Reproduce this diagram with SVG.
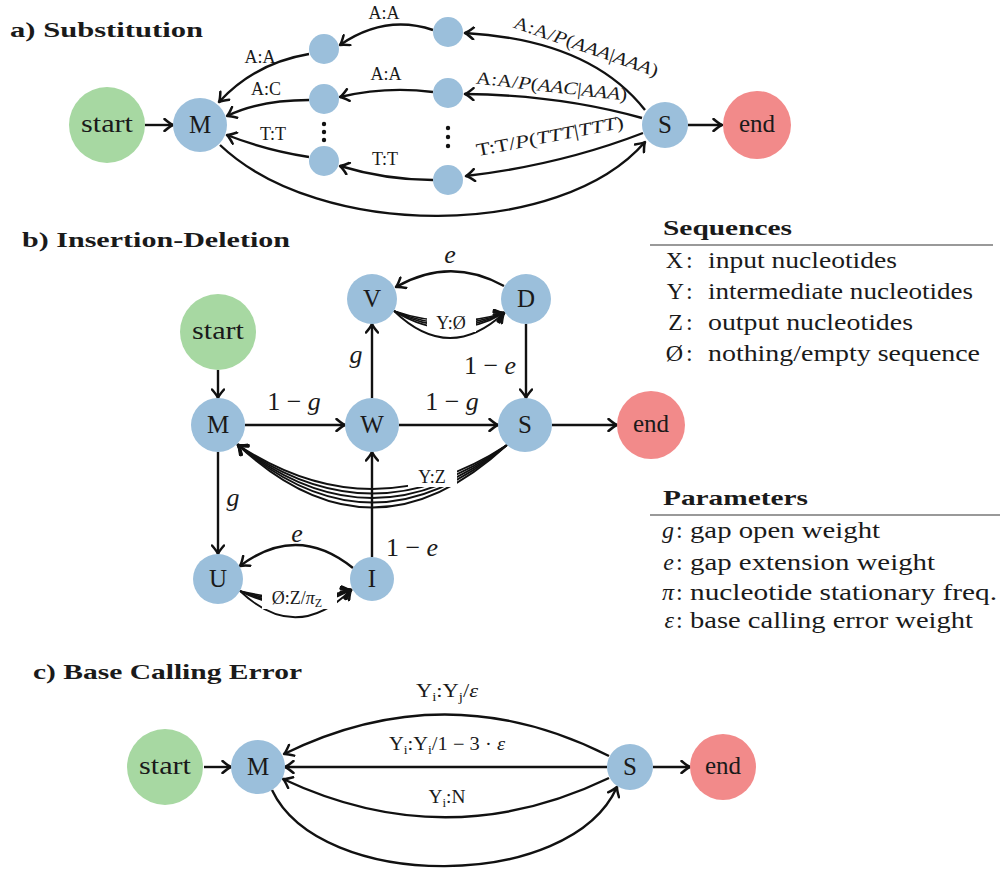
<svg xmlns="http://www.w3.org/2000/svg" width="1000" height="879" viewBox="0 0 1000 879">
  <style>
    text { font-family: 'Liberation Serif', 'Times New Roman', serif; fill: #1a1a1a; }
    .title { font-size: 22px; font-weight: bold; }
    .nl { font-size: 25px; text-anchor: middle; }
    .sl { font-size: 18px; text-anchor: middle; }
    .ml { font-size: 26px; text-anchor: middle; }
    .lg { font-size: 24px; }
    .sub { font-size: 12px; }
    .it { font-style: italic; }
    .edge { fill: none; stroke: #111; stroke-width: 2.4; marker-end: url(#tip); }
    .bundle { fill: none; stroke: #111; stroke-width: 1.8; marker-end: url(#tip); }
    .blue { fill: #9bbfdb; }
    .green { fill: #a7d8a2; }
    .red { fill: #f28a8a; }
    .rule { stroke: #777; stroke-width: 1.5; }
    .dot { fill: #111; }
    .mask { fill: #fff; }
  </style>
  <defs>
    <marker id="tip" viewBox="-11 -7 13 14" refX="0" refY="0" markerWidth="13" markerHeight="14" markerUnits="userSpaceOnUse" orient="auto">
      <path d="M-8.5,-6 Q-3,-1.2 0,0 Q-3,1.2 -8.5,6" fill="none" stroke="#111" stroke-width="2.5" stroke-linecap="round" stroke-linejoin="round"/>
    </marker>
  </defs>

  <!-- ============ a) Substitution ============ -->
  <text class="title" x="10" y="37" textLength="193" lengthAdjust="spacingAndGlyphs">a) Substitution</text>

  <g id="a-connectors">
    <path class="edge" d="M145,125 L173,125"/>
    <path class="edge" d="M688,125 L722,125"/>
    <!-- second column to first column -->
    <path class="edge" d="M433,30 Q385,14 340,45"/>
    <path class="edge" d="M433,92 Q386,86 340,97"/>
    <path class="edge" d="M433,180 Q386,180 340,166"/>
    <!-- first column into M -->
    <path class="edge" d="M309,54 Q255,63 219,102"/>
    <path class="edge" d="M309,100 Q260,100 227,116"/>
    <path class="edge" d="M309,157 Q265,150 227,135"/>
    <!-- M back to S -->
    <path class="edge" d="M220,145 C320,240 560,240 645,142"/>
    <!-- S into second column -->
    <path class="edge" d="M645,110 Q590,40 465,33"/>
    <path class="edge" d="M642,118 Q560,95 465,94"/>
    <path class="edge" d="M643,133 Q560,165 466,176"/>
  </g>

  <g id="a-labels">
    <text class="sl" x="384" y="19">A:A</text>
    <text class="sl" x="386" y="80">A:A</text>
    <text class="sl" x="385" y="165">T:T</text>
    <text class="sl" x="260" y="63">A:A</text>
    <text class="sl" x="266" y="95">A:C</text>
    <text class="sl" x="273" y="140">T:T</text>
    <text class="sl" x="584" y="52" transform="rotate(19 584 52)" textLength="152" lengthAdjust="spacingAndGlyphs">A:A/<tspan class="it">P</tspan>(<tspan class="it">AAA</tspan>|<tspan class="it">AAA</tspan>)</text>
    <text class="sl" x="551" y="92" transform="rotate(6.5 551 92)" textLength="152" lengthAdjust="spacingAndGlyphs">A:A/<tspan class="it">P</tspan>(<tspan class="it">AAC</tspan>|<tspan class="it">AAA</tspan>)</text>
    <text class="sl" x="551" y="142" transform="rotate(-11 551 142)" textLength="150" lengthAdjust="spacingAndGlyphs">T:T/<tspan class="it">P</tspan>(<tspan class="it">TTT</tspan>|<tspan class="it">TTT</tspan>)</text>
  </g>

  <g id="a-start"><circle class="green" cx="107" cy="125" r="38"/><text class="nl" x="107" y="132" textLength="52" lengthAdjust="spacingAndGlyphs">start</text></g>
  <g id="a-M"><circle class="blue" cx="200" cy="125" r="27"/><text class="nl" x="200" y="133">M</text></g>
  <g id="a-c1-top"><circle class="blue" cx="324" cy="49" r="15"/></g>
  <g id="a-c1-mid"><circle class="blue" cx="324" cy="99" r="15"/></g>
  <g id="a-c1-bot"><circle class="blue" cx="324" cy="161" r="15"/></g>
  <g id="a-c2-top"><circle class="blue" cx="448" cy="32" r="15"/></g>
  <g id="a-c2-mid"><circle class="blue" cx="448" cy="93" r="15"/></g>
  <g id="a-c2-bot"><circle class="blue" cx="448" cy="180" r="15"/></g>
  <g id="a-vdots">
    <circle class="dot" cx="324" cy="124" r="2.2"/><circle class="dot" cx="324" cy="132" r="2.2"/><circle class="dot" cx="324" cy="140" r="2.2"/>
    <circle class="dot" cx="448" cy="128" r="2.2"/><circle class="dot" cx="448" cy="137" r="2.2"/><circle class="dot" cx="448" cy="146" r="2.2"/>
  </g>
  <g id="a-S"><circle class="blue" cx="665" cy="125" r="23"/><text class="nl" x="665" y="133">S</text></g>
  <g id="a-end"><circle class="red" cx="757" cy="125" r="34"/><text class="nl" x="757" y="132">end</text></g>

  <!-- ============ b) Insertion-Deletion ============ -->
  <text class="title" x="22" y="247" textLength="268" lengthAdjust="spacingAndGlyphs">b) Insertion-Deletion</text>

  <g id="b-connectors">
    <path class="edge" d="M218,370 L218,398"/>
    <path class="edge" d="M245,425 L345,425"/>
    <path class="edge" d="M399,425 L498,425"/>
    <path class="edge" d="M552,425 L617,425"/>
    <path class="edge" d="M372,398 L372,324"/>
    <path class="edge" d="M526,324 L526,398"/>
    <path class="edge" d="M218,452 L218,554"/>
    <path class="edge" d="M372,557 L372,452"/>
    <path class="edge" d="M504,286 Q450,256 396,287"/>
    <path class="edge" d="M353,568 Q297,523 240,566"/>
    <!-- V to D bundle -->
    <path class="bundle" d="M394,311 Q449,330 504,313"/>
    <path class="bundle" d="M394,311 Q449,335 504,313"/>
    <path class="bundle" d="M394,311 Q449,340 504,313"/>
    <path class="bundle" d="M394,311 Q449,345 504,313"/>
    <path class="bundle" d="M394,311 Q449,364 504,313"/>
    <!-- S to M bundle -->
    <path class="bundle" d="M507,445 Q372,533 238,445"/>
    <path class="bundle" d="M507,445 Q372,542 238,445"/>
    <path class="bundle" d="M507,445 Q372,551 238,445"/>
    <path class="bundle" d="M507,445 Q372,560 238,445"/>
    <path class="bundle" d="M507,445 Q372,570 238,445"/>
    <!-- U to I bundle -->
    <path class="bundle" d="M240,591 Q296,605 351,590"/>
    <path class="bundle" d="M240,591 Q296,610 351,590"/>
    <path class="bundle" d="M240,591 Q296,615 351,590"/>
    <path class="bundle" d="M240,591 Q296,620 351,590"/>
    <path class="bundle" d="M240,591 Q296,644 351,590"/>
  </g>

  <g id="b-labels">
    <text class="ml" x="294" y="410">1 − <tspan class="it">g</tspan></text>
    <text class="ml" x="452" y="410">1 − <tspan class="it">g</tspan></text>
    <text class="ml it" x="356" y="363">g</text>
    <text class="ml" x="490" y="374">1 − <tspan class="it">e</tspan></text>
    <text class="ml it" x="450" y="263">e</text>
    <text class="ml it" x="233" y="506">g</text>
    <text class="ml it" x="297" y="542">e</text>
    <text class="ml" x="412" y="556">1 − <tspan class="it">e</tspan></text>
    <rect class="mask" x="427" y="313" width="49" height="19"/>
    <text class="sl" x="451" y="329">Y:Ø</text>
    <rect class="mask" x="408" y="466" width="49" height="21"/>
    <text class="sl" x="432" y="483">Y:Z</text>
    <rect class="mask" x="262" y="588" width="75" height="21"/>
    <text class="sl" x="297" y="604">Ø:Z/<tspan class="it">π</tspan><tspan class="sub" dy="3">Z</tspan></text>
  </g>

  <g id="b-start"><circle class="green" cx="218" cy="332" r="38"/><text class="nl" x="218" y="339" textLength="52" lengthAdjust="spacingAndGlyphs">start</text></g>
  <g id="b-M"><circle class="blue" cx="218" cy="425" r="27"/><text class="nl" x="218" y="433">M</text></g>
  <g id="b-W"><circle class="blue" cx="372" cy="425" r="27"/><text class="nl" x="372" y="433">W</text></g>
  <g id="b-S"><circle class="blue" cx="525" cy="425" r="27"/><text class="nl" x="525" y="433">S</text></g>
  <g id="b-end"><circle class="red" cx="651" cy="425" r="34"/><text class="nl" x="651" y="432">end</text></g>
  <g id="b-V"><circle class="blue" cx="372" cy="299" r="25"/><text class="nl" x="372" y="307">V</text></g>
  <g id="b-D"><circle class="blue" cx="526" cy="299" r="25"/><text class="nl" x="526" y="307">D</text></g>
  <g id="b-U"><circle class="blue" cx="218" cy="579" r="25"/><text class="nl" x="218" y="587">U</text></g>
  <g id="b-I"><circle class="blue" cx="372" cy="579" r="22"/><text class="nl" x="372" y="587">I</text></g>

  <!-- ============ legend ============ -->
  <g id="legend-sequences">
    <text class="title" x="663" y="235" textLength="129" lengthAdjust="spacingAndGlyphs">Sequences</text>
    <line class="rule" x1="650" y1="245" x2="993" y2="245"/>
    <text class="lg" x="683" y="268" text-anchor="end">X</text><text class="lg" x="686" y="268">:</text>
    <text class="lg" x="708" y="268" textLength="189" lengthAdjust="spacingAndGlyphs">input nucleotides</text>
    <text class="lg" x="684" y="299" text-anchor="end">Y</text><text class="lg" x="686" y="299">:</text>
    <text class="lg" x="708" y="299" textLength="265" lengthAdjust="spacingAndGlyphs">intermediate nucleotides</text>
    <text class="lg" x="683" y="330" text-anchor="end">Z</text><text class="lg" x="686" y="330">:</text>
    <text class="lg" x="708" y="330" textLength="205" lengthAdjust="spacingAndGlyphs">output nucleotides</text>
    <text class="lg" x="683" y="361" text-anchor="end">Ø</text><text class="lg" x="686" y="361">:</text>
    <text class="lg" x="708" y="361" textLength="272" lengthAdjust="spacingAndGlyphs">nothing/empty sequence</text>
  </g>
  <g id="legend-parameters">
    <text class="title" x="663" y="505" textLength="145" lengthAdjust="spacingAndGlyphs">Parameters</text>
    <line class="rule" x1="650" y1="515" x2="1000" y2="515"/>
    <text class="lg it" x="674" y="538" text-anchor="end">g</text><text class="lg" x="676" y="538">:</text>
    <text class="lg" x="690" y="538" textLength="190" lengthAdjust="spacingAndGlyphs">gap open weight</text>
    <text class="lg it" x="674" y="570" text-anchor="end">e</text><text class="lg" x="676" y="570">:</text>
    <text class="lg" x="690" y="570" textLength="245" lengthAdjust="spacingAndGlyphs">gap extension weight</text>
    <text class="lg it" x="674" y="600" text-anchor="end">π</text><text class="lg" x="676" y="600">:</text>
    <text class="lg" x="690" y="600" textLength="307" lengthAdjust="spacingAndGlyphs">nucleotide stationary freq.</text>
    <text class="lg it" x="674" y="628" text-anchor="end">ε</text><text class="lg" x="676" y="628">:</text>
    <text class="lg" x="690" y="628" textLength="283" lengthAdjust="spacingAndGlyphs">base calling error weight</text>
  </g>

  <!-- ============ c) Base Calling Error ============ -->
  <text class="title" x="33" y="679" textLength="269" lengthAdjust="spacingAndGlyphs">c) Base Calling Error</text>

  <g id="c-connectors">
    <path class="edge" d="M204,767 L231,767"/>
    <path class="edge" d="M653,767 L690,767"/>
    <path class="edge" d="M609,756 Q447,674 284,754"/>
    <path class="edge" d="M607,767 L285,767"/>
    <path class="edge" d="M609,778 Q447,856 283,779"/>
    <path class="edge" d="M272,790 C320,892 570,892 617,787"/>
  </g>

  <g id="c-labels">
    <text class="sl" x="447" y="697" textLength="62" lengthAdjust="spacingAndGlyphs">Y<tspan class="sub" dy="4">i</tspan><tspan dy="-4">:Y</tspan><tspan class="sub" dy="4">j</tspan><tspan dy="-4">/</tspan><tspan class="it">ε</tspan></text>
    <text class="sl" x="447" y="750" textLength="116" lengthAdjust="spacingAndGlyphs">Y<tspan class="sub" dy="4">i</tspan><tspan dy="-4">:Y</tspan><tspan class="sub" dy="4">i</tspan><tspan dy="-4">/1 − 3 · </tspan><tspan class="it">ε</tspan></text>
    <text class="sl" x="447" y="803" textLength="37" lengthAdjust="spacingAndGlyphs">Y<tspan class="sub" dy="4">i</tspan><tspan dy="-4">:N</tspan></text>
  </g>

  <g id="c-start"><circle class="green" cx="165" cy="767" r="38"/><text class="nl" x="165" y="774" textLength="52" lengthAdjust="spacingAndGlyphs">start</text></g>
  <g id="c-M"><circle class="blue" cx="258" cy="767" r="27"/><text class="nl" x="258" y="775">M</text></g>
  <g id="c-S"><circle class="blue" cx="630" cy="767" r="23"/><text class="nl" x="630" y="775">S</text></g>
  <g id="c-end"><circle class="red" cx="723" cy="767" r="33"/><text class="nl" x="723" y="774">end</text></g>
</svg>
